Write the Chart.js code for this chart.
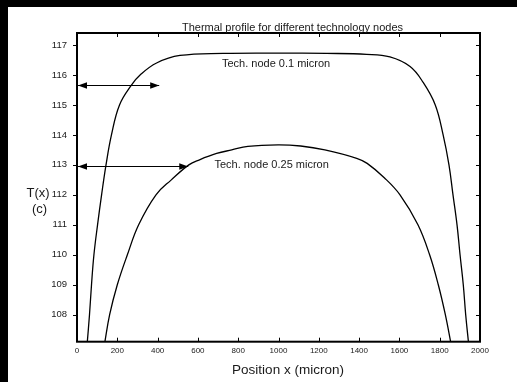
<!DOCTYPE html>
<html>
<head>
<meta charset="utf-8">
<script src="https://cdn.jsdelivr.net/npm/chart.js@4/dist/chart.umd.min.js"></script>
<style>
  html, body { margin: 0; padding: 0; background: #000; }
  canvas { display: block; }
</style>
</head>
<body>
<canvas id="c" width="517" height="382"></canvas>
<script>
// Temperature profile T(x) along the die, for two process nodes
const posNode01  = [50, 62, 72, 84, 102, 122, 144, 171, 211, 271, 313, 395, 511, 725, 998, 1238, 1437, 1553, 1653, 1718, 1778, 1817, 1846, 1866, 1886, 1901, 1917, 1929, 1944];
const tempNode01 = [107.0, 108, 109, 110, 111, 112, 113, 114, 115, 115.67, 116, 116.4, 116.65, 116.72, 116.73, 116.72, 116.69, 116.6, 116.28, 115.75, 115, 114, 113, 112, 111, 110, 109, 108, 107.0];

const posNode025  = [136, 162, 200, 250, 306, 392, 468, 555, 608, 693, 768, 848, 998, 1110, 1230, 1388, 1440, 1525, 1603, 1692, 1750, 1793, 1828, 1857];
const tempNode025 = [107.0, 108, 109, 110, 111, 112, 112.5, 113, 113.17, 113.38, 113.5, 113.62, 113.67, 113.63, 113.5, 113.22, 113.05, 112.57, 112, 111, 110, 109, 108, 107.0];

const xTicks = [0, 200, 400, 600, 800, 1000, 1200, 1400, 1600, 1800, 2000];
const yTicks = [108, 109, 110, 111, 112, 113, 114, 115, 116, 117];

// Double-headed arrows from the left edge, and the node annotations
const arrowLevels = [115.67, 112.97];
const arrowTips   = [408, 552];
const nodeLabels  = ['Tech. node 0.1 micron', 'Tech. node 0.25 micron'];
const labelX      = [988, 966];
const labelY      = [116.37, 113.0];

const FONT = '"Liberation Sans", Arial, Helvetica, sans-serif';
const INK = '#1a1a1a';

function toPoints(xs, ys) { return xs.map((x, i) => ({ x: x, y: ys[i] })); }

const framePlugin = {
  id: 'frame',
  beforeDraw(chart) {
    const ctx = chart.ctx;
    ctx.save();
    ctx.fillStyle = '#000';
    ctx.fillRect(0, 0, chart.width, chart.height);
    ctx.fillStyle = '#fff';
    ctx.fillRect(8, 7, chart.width - 8, chart.height - 7);
    ctx.restore();
  },
  afterDatasetsDraw(chart) {
    const ctx = chart.ctx;
    const xs = chart.scales.x, ys = chart.scales.y;
    const a = chart.chartArea;
    ctx.save();

    // arrows
    ctx.strokeStyle = '#000';
    ctx.fillStyle = '#000';
    ctx.lineWidth = 1;
    arrowLevels.forEach((lv, i) => {
      const y = Math.round(ys.getPixelForValue(lv)) + 0.5;
      const x0 = xs.getPixelForValue(0) + 1;
      const x1 = xs.getPixelForValue(arrowTips[i]);
      ctx.beginPath();
      ctx.moveTo(x0, y); ctx.lineTo(x1, y); ctx.stroke();
      const hl = 9, hw = 3.2;
      ctx.beginPath();
      ctx.moveTo(x0, y); ctx.lineTo(x0 + hl, y - hw); ctx.lineTo(x0 + hl, y + hw); ctx.closePath(); ctx.fill();
      ctx.beginPath();
      ctx.moveTo(x1, y); ctx.lineTo(x1 - hl, y - hw); ctx.lineTo(x1 - hl, y + hw); ctx.closePath(); ctx.fill();
    });

    // annotations
    ctx.fillStyle = INK;
    ctx.font = '11px ' + FONT;
    ctx.textAlign = 'center';
    ctx.textBaseline = 'middle';
    nodeLabels.forEach((t, i) => {
      ctx.fillText(t, xs.getPixelForValue(labelX[i]), ys.getPixelForValue(labelY[i]));
    });

    // axes box
    ctx.strokeStyle = '#000';
    ctx.lineWidth = 2;
    ctx.strokeRect(a.left, a.top, a.right - a.left, a.bottom - a.top);

    // tick marks
    ctx.lineWidth = 1;
    const tl = 4;
    ctx.beginPath();
    xTicks.forEach(v => {
      const x = Math.round(xs.getPixelForValue(v)) + 0.5;
      ctx.moveTo(x, a.bottom); ctx.lineTo(x, a.bottom - tl);
      ctx.moveTo(x, a.top); ctx.lineTo(x, a.top + tl);
    });
    yTicks.forEach(v => {
      const y = Math.round(ys.getPixelForValue(v)) + 0.5;
      ctx.moveTo(a.left, y); ctx.lineTo(a.left - tl, y);
      ctx.moveTo(a.right, y); ctx.lineTo(a.right - tl, y);
    });
    ctx.stroke();

    // titles
    ctx.fillStyle = INK;
    ctx.textAlign = 'center';
    ctx.textBaseline = 'middle';
    ctx.font = '11px ' + FONT;
    ctx.fillText('Thermal profile for different technology nodes', 292.5, 27.5);
    ctx.font = '13.5px ' + FONT;
    ctx.fillText('Position x (micron)', 288, 370);
    ctx.font = '13px ' + FONT;
    ctx.fillText('T(x)', 38, 193);
    ctx.fillText('(c)', 39.5, 209);
    ctx.restore();
  }
};

new Chart(document.getElementById('c'), {
  type: 'line',
  data: {
    datasets: [
      { label: 'Tech. node 0.1 micron', data: toPoints(posNode01, tempNode01) },
      { label: 'Tech. node 0.25 micron', data: toPoints(posNode025, tempNode025) }
    ]
  },
  options: {
    responsive: false,
    animation: false,
    devicePixelRatio: 1,
    layout: { padding: { left: 0, right: 37, top: 33, bottom: 0 } },
    elements: {
      line: { borderColor: '#000', borderWidth: 1.3, tension: 0.4, fill: false },
      point: { radius: 0, hoverRadius: 0 }
    },
    plugins: { legend: { display: false }, title: { display: false }, tooltip: { enabled: false } },
    scales: {
      x: {
        type: 'linear', min: 0, max: 2000,
        afterFit(s) { s.height = 40.3; },
        afterBuildTicks(s) { s.ticks = xTicks.map(v => ({ value: v })); },
        grid: { display: false, drawTicks: false },
        border: { display: false },
        ticks: { padding: 4, color: INK, font: { family: FONT, size: 8 }, maxRotation: 0, autoSkip: false,
                 callback: v => String(v) }
      },
      y: {
        type: 'linear', min: 107.1, max: 117.4,
        afterFit(s) { s.width = 77; },
        afterBuildTicks(s) { s.ticks = yTicks.map(v => ({ value: v })); },
        grid: { display: false, drawTicks: false },
        border: { display: false },
        ticks: { padding: 10, color: INK, font: { family: FONT, size: 9.5 }, autoSkip: false,
                 callback: v => String(v) }
      }
    }
  },
  plugins: [framePlugin]
});
</script>
</body>
</html>
